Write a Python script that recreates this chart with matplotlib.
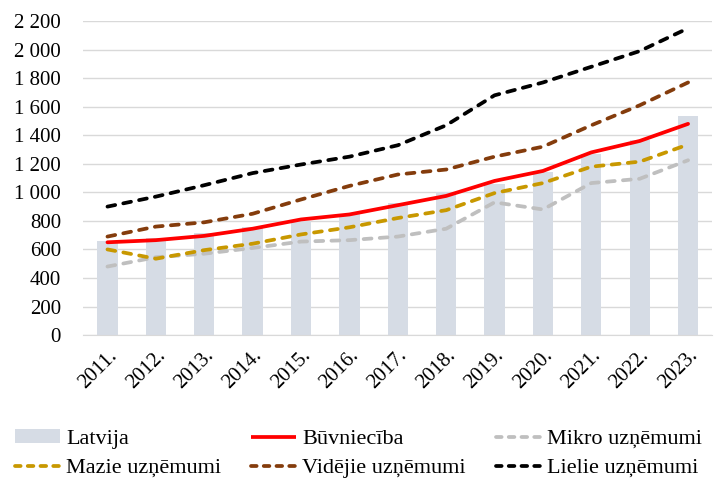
import matplotlib

matplotlib.use("Agg")
import matplotlib.pyplot as plt
from matplotlib.patches import Patch
from matplotlib.lines import Line2D
from matplotlib.ticker import FuncFormatter, MultipleLocator

plt.rcParams["font.family"] = ["Liberation Serif", "DejaVu Serif"]

years = ["2011.", "2012.", "2013.", "2014.", "2015.", "2016.", "2017.",
         "2018.", "2019.", "2020.", "2021.", "2022.", "2023."]
latvija = [660, 683, 715, 755, 800, 850, 925, 1005, 1060, 1140, 1270, 1370, 1535]
buvnieciba = [650, 665, 695, 745, 810, 845, 910, 975, 1080, 1150, 1280, 1360, 1480]
mikro = [480, 545, 570, 610, 655, 665, 690, 745, 930, 880, 1065, 1095, 1225]
mazie = [600, 535, 595, 640, 705, 755, 820, 875, 995, 1065, 1180, 1215, 1335]
videjie = [690, 760, 790, 850, 950, 1045, 1125, 1160, 1250, 1320, 1470, 1610, 1770]
lielie = [900, 970, 1050, 1135, 1195, 1250, 1330, 1470, 1680, 1770, 1880, 1990, 2150]

BAR_COLOR = "#D6DCE5"
SERIES = [
    ("Būvniecība", buvnieciba, "#FF0000", "-"),
    ("Mikro uzņēmumi", mikro, "#BFBFBF", "--"),
    ("Mazie uzņēmumi", mazie, "#C89800", "--"),
    ("Vidējie uzņēmumi", videjie, "#843C0C", "--"),
    ("Lielie uzņēmumi", lielie, "#000000", "--"),
]
LW = 2.7

fig = plt.figure(figsize=(7.18, 4.8), dpi=100)
ax = fig.add_axes([0.116, 0.302, 0.876, 0.654])

x = list(range(len(years)))
ax.bar(x, latvija, width=0.42, color=BAR_COLOR, zorder=2)

handles = {"Latvija": Patch(facecolor=BAR_COLOR, edgecolor="none")}
for label, values, color, style in SERIES:
    line, = ax.plot(x, values, color=color, linewidth=LW, linestyle=style, zorder=3,
                    solid_capstyle="round", dash_capstyle="round")
    h = Line2D([0], [0], color=color, linewidth=LW, linestyle=style,
               solid_capstyle="butt", dash_capstyle="round")
    if style == "--":
        line.set_dashes((2.1, 2.2))
        h.set_dashes((1.5, 1.9))
    handles[label] = h

ax.set_xlim(-0.5, len(years) - 0.5)
ax.set_ylim(0, 2200)
ax.yaxis.set_major_locator(MultipleLocator(200))
ax.yaxis.set_major_formatter(FuncFormatter(lambda v, p: f"{v:,.0f}".replace(",", " ")))
ax.set_xticks(x)
ax.set_xticklabels(years, rotation=45, ha="right", rotation_mode="anchor")
ax.tick_params(axis="both", length=0, labelsize=15, colors="black")
ax.tick_params(axis="x", pad=8)
ax.tick_params(axis="y", pad=16)
ax.grid(axis="y", color="#D9D9D9", linewidth=1.0, zorder=0)
ax.set_axisbelow(True)
for side in ["top", "right", "left"]:
    ax.spines[side].set_visible(False)
ax.spines["bottom"].set_color("#D9D9D9")

order = ["Latvija", "Mazie uzņēmumi", "Būvniecība", "Vidējie uzņēmumi",
         "Mikro uzņēmumi", "Lielie uzņēmumi"]
fig.legend([handles[k] for k in order], order, ncol=3, loc="lower left",
           bbox_to_anchor=(0.018, 0.0), frameon=False, fontsize=16,
           handlelength=2.0, handleheight=0.55, handletextpad=0.3,
           columnspacing=1.35, labelspacing=0.42, borderaxespad=0.0,
           borderpad=0.1)

fig.savefig("out.png", dpi=100)
